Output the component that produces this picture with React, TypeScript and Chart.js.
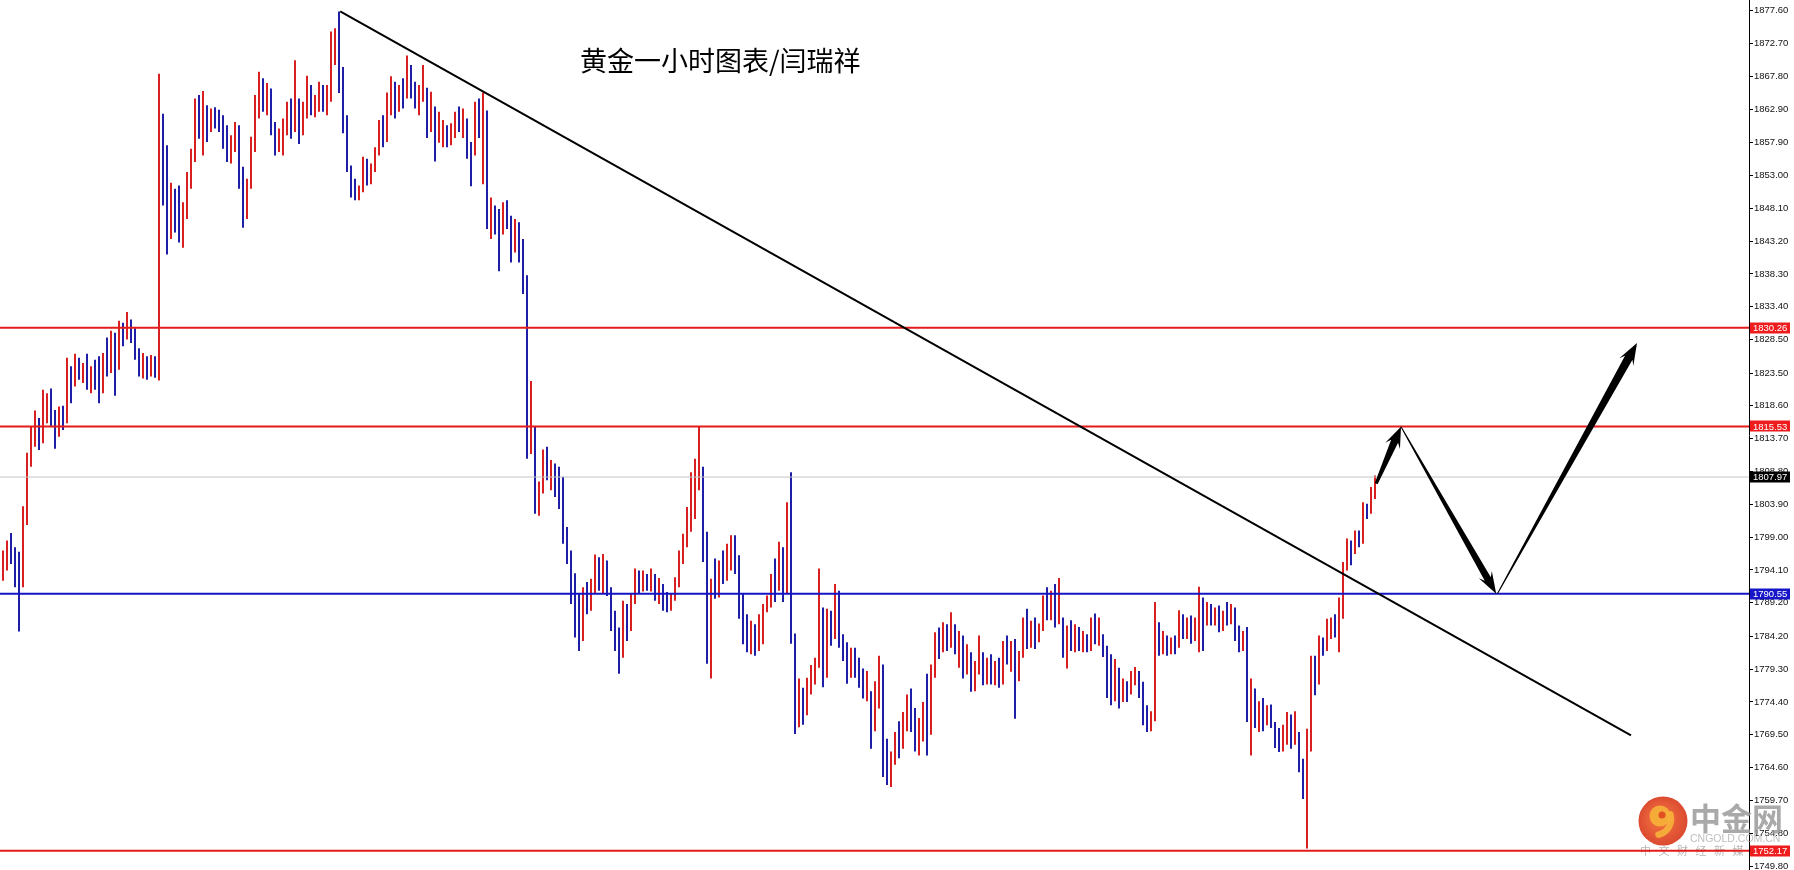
import React, { useEffect, useRef } from 'react';
import { Chart, registerables } from 'chart.js';

Chart.register(...registerables);

// ---- hourly bars (index 0 = oldest) ----
const HIGHS = [
  1797.0, 1798.5, 1799.6, 1797.5, 1796.8, 1803.6, 1811.6, 1815.5, 1817.9, 1816.8,
  1821.0, 1820.5, 1821.2, 1818.0, 1818.5, 1818.6, 1825.8, 1824.5, 1826.4, 1825.8,
  1825.0, 1826.4, 1824.5, 1825.5, 1826.0, 1826.5, 1828.8, 1829.8, 1829.5, 1831.3,
  1831.0, 1832.6, 1831.5, 1830.2, 1827.2, 1826.5, 1826.0, 1826.2, 1826.0, 1868.2,
  1862.2, 1857.5, 1851.9, 1851.0, 1851.5, 1849.0, 1853.5, 1857.0, 1864.5, 1865.0,
  1865.6, 1863.5, 1863.0, 1863.2, 1862.8, 1862.0, 1860.5, 1859.0, 1861.0, 1860.5,
  1854.3, 1852.5, 1858.8, 1865.0, 1868.5, 1867.5, 1866.8, 1866.0, 1861.0, 1860.0,
  1861.5, 1864.0, 1864.5, 1870.2, 1864.5, 1864.0, 1867.9, 1866.5, 1865.0, 1867.0,
  1866.5, 1866.5, 1874.5, 1875.0, 1877.5, 1869.2, 1862.0, 1854.5, 1852.5, 1851.5,
  1855.8, 1855.5, 1854.8, 1857.2, 1861.3, 1862.0, 1865.4, 1867.8, 1867.0, 1866.5,
  1867.5, 1870.9, 1869.5, 1867.0, 1866.5, 1869.5, 1866.1, 1865.5, 1863.3, 1862.5,
  1861.3, 1860.5, 1860.8, 1862.5, 1863.3, 1863.0, 1861.5, 1858.0, 1864.0, 1864.5,
  1865.4, 1862.7, 1849.7, 1848.5, 1848.0, 1849.0, 1849.3, 1847.0, 1846.5, 1846.0,
  1843.5, 1838.1, 1822.3, 1815.5, 1807.3, 1812.1, 1812.5, 1810.5, 1810.0, 1809.5,
  1808.0, 1800.5, 1797.0, 1793.6, 1790.5, 1791.5, 1792.3, 1792.8, 1796.4, 1796.0,
  1796.5, 1795.5, 1791.5, 1788.0, 1785.5, 1789.5, 1789.0, 1790.5, 1794.3, 1794.0,
  1794.0, 1793.5, 1794.3, 1793.5, 1792.9, 1792.0, 1790.8, 1790.5, 1793.0, 1797.0,
  1799.5, 1803.5, 1808.7, 1810.7, 1815.5, 1809.5, 1799.8, 1792.8, 1795.8, 1795.5,
  1797.0, 1798.0, 1799.3, 1799.3, 1796.3, 1790.5, 1787.5, 1786.5, 1786.0, 1787.5,
  1789.0, 1790.3, 1793.5, 1795.8, 1798.3, 1797.5, 1804.2, 1808.7, 1784.6, 1777.9,
  1776.5, 1778.0, 1779.9, 1781.0, 1794.3, 1788.5, 1788.3, 1788.0, 1792.0, 1791.0,
  1784.5, 1783.3, 1782.5, 1782.5, 1781.0, 1779.4, 1779.0, 1776.0, 1777.5, 1781.3,
  1780.0, 1768.9, 1767.0, 1769.9, 1771.5, 1772.9, 1775.5, 1776.4, 1773.5, 1772.0,
  1774.4, 1778.6, 1780.0, 1784.8, 1785.5, 1786.3, 1786.0, 1787.8, 1786.0, 1785.0,
  1784.3, 1783.0, 1781.8, 1780.5, 1784.3, 1781.8, 1781.0, 1781.5, 1780.5, 1781.0,
  1783.5, 1784.3, 1783.5, 1783.8, 1782.0, 1787.0, 1788.3, 1786.5, 1787.0, 1786.1,
  1790.3, 1791.5, 1791.0, 1792.0, 1792.9, 1787.0, 1785.8, 1786.6, 1786.0, 1785.6,
  1785.0, 1784.5, 1787.0, 1787.6, 1787.0, 1784.5, 1782.8, 1781.5, 1780.8, 1779.5,
  1777.9, 1777.5, 1779.0, 1779.6, 1779.0, 1777.4, 1773.9, 1773.0, 1789.3, 1786.3,
  1785.0, 1784.3, 1784.0, 1784.3, 1788.1, 1787.5, 1787.0, 1787.3, 1787.0, 1791.6,
  1790.0, 1789.3, 1789.0, 1788.5, 1788.8, 1788.0, 1789.3, 1789.0, 1788.5, 1785.8,
  1785.0, 1785.6, 1777.9, 1776.4, 1774.5, 1775.0, 1773.9, 1774.0, 1771.4, 1770.5,
  1771.0, 1772.9, 1772.5, 1773.0, 1769.9, 1765.9, 1770.4, 1781.3, 1781.3, 1784.3,
  1784.0, 1786.8, 1787.0, 1787.5, 1790.0, 1795.3, 1798.8, 1798.5, 1800.0, 1800.0,
  1804.2, 1804.0, 1806.5, 1808.2,
];

const LOWS = [
  1792.5, 1794.0, 1795.0, 1791.5, 1784.9, 1791.5, 1800.8, 1809.5, 1812.5, 1812.0,
  1813.0, 1816.0, 1815.5, 1812.2, 1814.0, 1815.0, 1816.0, 1819.0, 1821.5, 1822.5,
  1822.0, 1821.0, 1820.5, 1821.0, 1819.0, 1820.5, 1823.0, 1823.5, 1820.1, 1824.0,
  1827.5, 1828.5, 1828.0, 1825.5, 1823.0, 1822.7, 1822.5, 1823.0, 1822.8, 1822.4,
  1848.5, 1841.2, 1843.5, 1844.5, 1843.0, 1842.2, 1846.5, 1851.0, 1855.0, 1858.5,
  1856.0, 1858.0, 1859.5, 1860.0, 1859.5, 1857.0, 1855.0, 1854.8, 1856.5, 1851.0,
  1845.2, 1846.5, 1851.0, 1856.5, 1861.5, 1862.5, 1862.0, 1859.0, 1856.0, 1856.5,
  1856.0, 1859.0, 1858.5, 1859.5, 1857.7, 1859.0, 1861.5, 1862.0, 1861.7, 1862.5,
  1862.5, 1862.0, 1864.0, 1869.5, 1865.3, 1859.3, 1853.5, 1849.7, 1849.3, 1849.3,
  1850.5, 1851.5, 1851.7, 1853.5, 1856.0, 1857.2, 1858.0, 1862.0, 1861.5, 1862.5,
  1863.0, 1864.5, 1864.5, 1863.0, 1862.0, 1864.0, 1858.6, 1859.5, 1855.1, 1857.9,
  1857.2, 1857.2, 1857.5, 1858.6, 1859.5, 1858.6, 1855.5, 1851.4, 1856.0, 1858.6,
  1851.7, 1845.0, 1843.5, 1844.2, 1838.7, 1844.2, 1845.0, 1840.0, 1841.5, 1840.0,
  1835.3, 1810.7, 1811.4, 1802.5, 1802.2, 1805.5, 1807.5, 1806.0, 1805.0, 1803.2,
  1798.0, 1795.0, 1789.0, 1784.0, 1782.0, 1783.5, 1787.5, 1788.0, 1790.5, 1791.0,
  1790.5, 1790.2, 1785.0, 1782.0, 1778.6, 1781.0, 1783.5, 1785.0, 1789.0, 1790.5,
  1790.9, 1791.0, 1790.9, 1789.5, 1789.0, 1788.0, 1787.8, 1788.0, 1789.5, 1791.5,
  1795.0, 1797.5, 1799.8, 1801.7, 1806.0, 1795.3, 1780.1, 1777.9, 1789.8, 1790.0,
  1792.0, 1792.5, 1794.0, 1793.5, 1786.8, 1783.0, 1781.8, 1781.5, 1781.3, 1782.0,
  1783.0, 1787.8, 1788.5, 1789.3, 1791.0, 1789.3, 1790.5, 1783.1, 1769.6, 1770.6,
  1771.0, 1772.4, 1775.5, 1777.0, 1779.5, 1776.6, 1778.0, 1782.8, 1783.8, 1782.5,
  1780.5, 1777.1, 1778.0, 1778.0, 1776.5, 1774.9, 1774.5, 1767.4, 1770.0, 1773.4,
  1763.2, 1762.0, 1761.7, 1765.0, 1766.0, 1767.4, 1770.0, 1769.9, 1767.0, 1766.4,
  1768.5, 1766.4, 1769.5, 1778.0, 1780.8, 1781.8, 1782.0, 1782.5, 1781.5, 1779.5,
  1777.9, 1778.5, 1775.9, 1776.0, 1778.5, 1776.9, 1777.0, 1777.0, 1776.9, 1776.5,
  1777.0, 1780.0, 1778.9, 1771.9, 1777.5, 1781.0, 1782.3, 1782.5, 1782.3, 1783.3,
  1785.0, 1786.6, 1786.6, 1785.5, 1786.0, 1781.0, 1779.4, 1782.0, 1781.8, 1782.0,
  1781.8, 1781.8, 1782.0, 1783.0, 1782.8, 1781.1, 1775.0, 1773.9, 1774.5, 1773.4,
  1774.4, 1774.4, 1775.5, 1776.9, 1775.0, 1770.9, 1769.9, 1770.0, 1771.5, 1781.3,
  1781.5, 1781.3, 1781.5, 1781.5, 1782.5, 1783.8, 1783.8, 1783.1, 1783.5, 1781.8,
  1782.0, 1785.8, 1785.8, 1785.8, 1784.8, 1785.0, 1785.8, 1786.0, 1783.5, 1781.8,
  1782.0, 1771.4, 1766.4, 1770.5, 1769.9, 1770.0, 1770.9, 1770.5, 1767.5, 1766.9,
  1767.0, 1768.0, 1767.4, 1768.0, 1763.9, 1759.9, 1752.5, 1767.0, 1775.4, 1777.0,
  1781.3, 1782.0, 1783.8, 1784.0, 1781.8, 1786.8, 1794.0, 1794.8, 1796.5, 1797.5,
  1798.0, 1801.7, 1802.5, 1804.7,
];

const CLOSES = [
  1795.0, 1797.5, 1796.0, 1792.5, 1791.5, 1802.5, 1810.5, 1813.0, 1815.5, 1813.5,
  1819.5, 1819.8, 1816.5, 1814.5, 1817.5, 1816.5, 1823.0, 1822.0, 1825.5, 1823.5,
  1824.2, 1822.0, 1823.8, 1822.0, 1820.5, 1825.5, 1824.0, 1828.5, 1822.0, 1830.5,
  1829.0, 1831.5, 1829.0, 1826.5, 1824.5, 1825.5, 1823.5, 1825.8, 1823.5, 1851.0,
  1850.5, 1845.0, 1849.5, 1846.0, 1844.0, 1847.5, 1852.5, 1856.5, 1863.5, 1860.0,
  1863.5, 1859.5, 1862.5, 1861.0, 1860.2, 1858.0, 1856.0, 1858.5, 1860.5, 1852.5,
  1847.0, 1851.5, 1858.0, 1863.5, 1866.5, 1864.0, 1865.5, 1860.0, 1857.5, 1858.5,
  1860.5, 1863.0, 1860.0, 1864.0, 1859.5, 1863.5, 1866.0, 1863.0, 1864.5, 1866.5,
  1863.5, 1865.5, 1872.0, 1874.5, 1866.5, 1860.5, 1854.5, 1850.5, 1849.8, 1850.8,
  1855.0, 1852.5, 1854.0, 1856.8, 1860.5, 1858.5, 1864.5, 1866.5, 1862.5, 1865.5,
  1864.0, 1869.0, 1865.5, 1864.0, 1865.8, 1868.0, 1860.0, 1864.5, 1857.0, 1858.5,
  1860.0, 1858.0, 1860.0, 1862.0, 1861.0, 1862.5, 1856.5, 1853.0, 1862.5, 1860.0,
  1863.0, 1846.0, 1848.5, 1845.0, 1844.0, 1848.0, 1846.0, 1841.0, 1846.0, 1841.5,
  1837.0, 1812.0, 1815.0, 1804.0, 1806.0, 1810.5, 1808.5, 1809.5, 1806.0, 1804.0,
  1799.0, 1796.0, 1790.0, 1785.0, 1783.0, 1790.5, 1788.5, 1792.0, 1795.5, 1792.0,
  1795.5, 1791.0, 1786.0, 1783.0, 1781.0, 1788.5, 1785.0, 1790.0, 1793.5, 1791.5,
  1793.5, 1792.0, 1794.0, 1790.5, 1791.5, 1789.0, 1788.5, 1790.2, 1792.5, 1796.5,
  1799.0, 1803.0, 1806.0, 1809.5, 1811.0, 1797.0, 1784.0, 1791.0, 1790.5, 1794.0,
  1793.0, 1797.0, 1798.5, 1795.0, 1788.0, 1784.0, 1783.5, 1785.5, 1782.0, 1786.5,
  1788.5, 1789.0, 1792.5, 1791.0, 1797.0, 1790.5, 1803.5, 1786.0, 1771.5, 1776.0,
  1772.5, 1777.5, 1779.0, 1780.5, 1789.0, 1778.0, 1787.0, 1784.0, 1790.5, 1784.0,
  1781.5, 1778.5, 1781.5, 1779.0, 1777.5, 1775.5, 1778.0, 1769.0, 1776.0, 1780.0,
  1765.0, 1763.0, 1765.5, 1769.0, 1767.0, 1772.0, 1774.5, 1771.0, 1768.0, 1771.0,
  1773.5, 1768.0, 1779.5, 1783.5, 1782.0, 1785.5, 1783.0, 1786.5, 1782.5, 1784.0,
  1779.0, 1782.0, 1777.0, 1779.5, 1783.0, 1778.0, 1780.0, 1778.0, 1779.5, 1777.5,
  1782.5, 1781.0, 1782.5, 1775.0, 1781.0, 1786.0, 1783.5, 1785.5, 1783.5, 1785.5,
  1789.5, 1787.5, 1790.5, 1786.0, 1789.0, 1782.0, 1784.5, 1783.0, 1785.5, 1783.0,
  1784.5, 1782.5, 1786.0, 1784.0, 1785.5, 1782.0, 1776.0, 1775.0, 1779.5, 1774.5,
  1777.0, 1776.0, 1778.5, 1779.0, 1776.0, 1772.0, 1770.5, 1772.5, 1785.0, 1782.0,
  1784.5, 1782.0, 1783.5, 1782.5, 1787.5, 1785.0, 1786.5, 1784.0, 1786.5, 1788.5,
  1785.0, 1788.5, 1786.5, 1788.0, 1785.5, 1787.5, 1786.5, 1788.5, 1784.0, 1782.5,
  1784.5, 1773.0, 1776.0, 1771.5, 1773.5, 1771.0, 1773.5, 1771.5, 1768.5, 1767.5,
  1770.5, 1772.0, 1768.5, 1772.0, 1765.0, 1761.0, 1769.0, 1780.0, 1777.0, 1783.5,
  1782.0, 1786.0, 1786.5, 1785.0, 1789.0, 1794.5, 1798.0, 1795.5, 1799.5, 1798.0,
  1803.5, 1803.0, 1806.0, 1807.97,
];
const FIRST_OPEN = 1794.0;

// ---- price axis ----
const Y_TICKS = [
  1877.6, 1872.7, 1867.8, 1862.9, 1857.9, 1853.0, 1848.1, 1843.2, 1838.3, 1833.4,
  1828.5, 1823.5, 1818.6, 1813.7, 1808.8, 1803.9, 1799.0, 1794.1, 1789.2, 1784.2,
  1779.3, 1774.4, 1769.5, 1764.6, 1759.7, 1754.8, 1749.8,
];
const Y_MIN = 1749.3;
const Y_MAX = 1879.2;
const X_MIN = -0.75;
const X_MAX = 436.5;

// ---- drawn levels / objects ----
const RED_LEVELS = [1830.26, 1815.53, 1752.17];
const BLUE_LEVELS = [1790.55];
const LAST_PRICE = 1807.97;
const TREND_LINE = [
  { x: 84.3, y: 1877.5 },
  { x: 407.0, y: 1769.4 },
];
// [fromIndex, fromPrice, toIndex, toPrice]
const ARROWS = [
  [343.3, 1807.0, 349.5, 1815.5],
  [349.5, 1815.5, 373.3, 1790.55],
  [373.6, 1790.55, 408.5, 1828.0],
];
const TITLE = '黄金一小时图表/闫瑞祥';

const BAR_UP = '#d82020';
const BAR_DOWN = '#1e1ea6';
const RED_LINE = '#e41b1b';
const BLUE_LINE = '#1414c4';

function drawArrow(ctx: CanvasRenderingContext2D, x0: number, y0: number, x1: number, y1: number,
  w0: number, w1: number, hl: number, hw: number) {
  const dx = x1 - x0, dy = y1 - y0;
  const len = Math.hypot(dx, dy);
  const ux = dx / len, uy = dy / len;
  const nx = -uy, ny = ux;
  const bx = x1 - ux * hl, by = y1 - uy * hl;
  const sx = x1 - ux * (hl - 5), sy = y1 - uy * (hl - 5);
  ctx.beginPath();
  ctx.moveTo(x0 + nx * w0 / 2, y0 + ny * w0 / 2);
  ctx.lineTo(sx + nx * w1 / 2, sy + ny * w1 / 2);
  ctx.lineTo(bx + nx * hw / 2, by + ny * hw / 2);
  ctx.lineTo(x1, y1);
  ctx.lineTo(bx - nx * hw / 2, by - ny * hw / 2);
  ctx.lineTo(sx - nx * w1 / 2, sy - ny * w1 / 2);
  ctx.lineTo(x0 - nx * w0 / 2, y0 - ny * w0 / 2);
  ctx.closePath();
  ctx.fill();
}

const ARROW_STYLE = [
  [3, 7.5, 21, 16],
  [1, 7, 22, 15],
  [1, 8.5, 22, 16],
];

const overlayPlugin = {
  id: 'overlay',
  beforeDatasetsDraw(chart: any) {
    const ctx: CanvasRenderingContext2D = chart.ctx;
    ctx.save();
    ctx.globalAlpha = 0.9;
    const cx = 1663, cy = 821;
    const g = ctx.createRadialGradient(cx - 4, cy - 4, 4, cx, cy, 25);
    g.addColorStop(0, '#f0622a');
    g.addColorStop(1, '#d8361a');
    ctx.fillStyle = g;
    ctx.beginPath(); ctx.arc(cx, cy, 24.5, 0, Math.PI * 2); ctx.fill();
    ctx.fillStyle = '#f7b23a';
    ctx.beginPath(); ctx.arc(cx - 3, cy - 5, 10.5, 0, Math.PI * 2); ctx.fill();
    ctx.strokeStyle = '#f7b23a';
    ctx.lineWidth = 6.5;
    ctx.lineCap = 'round';
    ctx.beginPath(); ctx.arc(cx - 8, cy - 2, 16, -0.3, 1.35); ctx.stroke();
    ctx.fillStyle = '#e0461f';
    ctx.beginPath(); ctx.arc(cx - 1, cy - 6, 3.5, 0, Math.PI * 2); ctx.fill();
    ctx.globalAlpha = 0.85;
    ctx.fillStyle = '#9a9a9a';
    ctx.textBaseline = 'middle';
    ctx.textAlign = 'left';
    ctx.font = 'bold 31px "Noto Sans CJK SC"';
    ctx.fillText('中金网', 1690, 818);
    ctx.fillStyle = '#b4b4b4';
    ctx.font = '10.5px "Liberation Sans"';
    ctx.fillText('CNGOLD.COM.CN', 1690, 839.5);
    ctx.fillStyle = '#aaaaaa';
    ctx.font = '11px "Noto Sans CJK SC"';
    const sub = '中文财经新媒体';
    for (let k = 0; k < sub.length; k++) ctx.fillText(sub[k], 1640 + k * 18.5, 851);
    ctx.restore();
  },
  afterDatasetsDraw(chart: any) {
    const ctx: CanvasRenderingContext2D = chart.ctx;
    const xs = chart.scales.x, ys = chart.scales.y;
    ctx.save();
    ctx.fillStyle = '#000';
    ARROWS.forEach((a, k) => {
      const s = ARROW_STYLE[k];
      drawArrow(ctx, xs.getPixelForValue(a[0]), ys.getPixelForValue(a[1]),
        xs.getPixelForValue(a[2]), ys.getPixelForValue(a[3]), s[0], s[1], s[2], s[3]);
    });
    ctx.restore();
  },
  afterDraw(chart: any) {
    const ctx: CanvasRenderingContext2D = chart.ctx;
    const ys = chart.scales.y;
    const left = chart.chartArea.right + 1;
    ctx.save();
    ctx.fillStyle = '#000';
    ctx.font = '27px "Noto Sans CJK SC"';
    ctx.textBaseline = 'middle';
    ctx.textAlign = 'left';
    ctx.fillText(TITLE, 580, 61);
    const tags: [number, string][] = [
      ...RED_LEVELS.map((v) => [v, '#ee1c1c'] as [number, string]),
      ...BLUE_LEVELS.map((v) => [v, '#1616c8'] as [number, string]),
      [LAST_PRICE, '#000000'],
    ];
    ctx.font = '9.5px "Liberation Sans"';
    tags.forEach(([v, col]) => {
      const y = ys.getPixelForValue(v);
      ctx.fillStyle = col;
      ctx.fillRect(left, Math.round(y) - 5.5, 40, 11);
      ctx.fillStyle = '#fff';
      ctx.fillText(v.toFixed(2), left + 3, y + 0.5);
    });
    ctx.restore();
  },
};

export default function App() {
  const ref = useRef<HTMLCanvasElement | null>(null);
  useEffect(() => {
    document.body.style.margin = '0';
    document.body.style.overflow = 'hidden';
    const canvas = ref.current;
    if (!canvas) return;
    const bars = HIGHS.map((h, i) => ({ x: i, y: [LOWS[i], h] }));
    const colors = CLOSES.map((c, i) => {
      const o = i === 0 ? FIRST_OPEN : CLOSES[i - 1];
      return c >= o ? BAR_UP : BAR_DOWN;
    });
    const hline = (v: number) => [{ x: X_MIN, y: v }, { x: X_MAX, y: v }];
    const lineDs = (data: any, color: string, width: number, order: number) => ({
      type: 'line' as const, data, borderColor: color, borderWidth: width,
      pointRadius: 0, pointHoverRadius: 0, fill: false, tension: 0, order,
    });
    const chart = new Chart(canvas, {
      type: 'bar',
      data: {
        datasets: [
          {
            type: 'bar', data: bars as any, backgroundColor: colors, borderWidth: 0,
            barThickness: 2, inflateAmount: 0, grouped: false, order: 10,
          } as any,
          lineDs(hline(LAST_PRICE), '#c4c4c4', 1, 6),
          ...RED_LEVELS.map((v) => lineDs(hline(v), RED_LINE, 2, 4)),
          ...BLUE_LEVELS.map((v) => lineDs(hline(v), BLUE_LINE, 2, 4)),
          lineDs(TREND_LINE, '#000000', 2, 1),
        ] as any,
      },
      options: {
        animation: false,
        responsive: false,
        devicePixelRatio: 1,
        events: [],
        layout: { padding: 0 },
        plugins: { legend: { display: false }, tooltip: { enabled: false } },
        scales: {
          x: { type: 'linear', min: X_MIN, max: X_MAX, display: false, offset: false },
          y: {
            type: 'linear',
            position: 'right',
            min: Y_MIN,
            max: Y_MAX,
            afterBuildTicks: (s: any) => { s.ticks = Y_TICKS.map((v) => ({ value: v })); },
            afterFit: (s: any) => { s.width = 45; s.paddingTop = 0; s.paddingBottom = 0; },
            ticks: {
              autoSkip: false,
              color: '#111',
              padding: 1,
              font: { family: 'Liberation Sans', size: 9.5 },
              callback: (v: any) => Number(v).toFixed(2),
            },
            grid: { drawOnChartArea: false, drawTicks: true, tickLength: 4, color: '#000', tickColor: '#000' },
            border: { display: true, color: '#000', width: 1 },
          },
        },
      } as any,
      plugins: [overlayPlugin],
    });
    return () => chart.destroy();
  }, []);
  return (
    <div style={{ width: 1794, height: 870, background: '#fff' }}>
      <canvas ref={ref} width={1794} height={870} style={{ display: 'block' }} />
    </div>
  );
}
